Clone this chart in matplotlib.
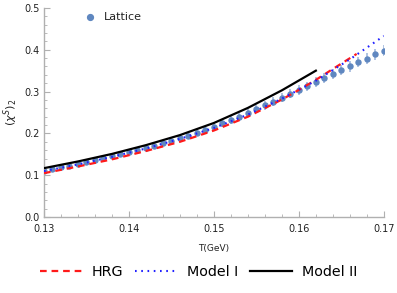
import numpy as np
import matplotlib
matplotlib.use('Agg')
import matplotlib.pyplot as plt
from matplotlib.ticker import MultipleLocator, FormatStrFormatter
from matplotlib.lines import Line2D

# model curves
t_hrg = [0.130, 0.134, 0.138, 0.142, 0.146, 0.150, 0.154, 0.158, 0.160, 0.162, 0.164, 0.1668]
hrg = [0.105, 0.121, 0.138, 0.158, 0.180, 0.207, 0.240, 0.281, 0.304, 0.328, 0.354, 0.390]

t_m1 = [0.130, 0.134, 0.138, 0.142, 0.146, 0.150, 0.154, 0.158, 0.162, 0.166, 0.168, 0.170]
model1 = [0.110, 0.126, 0.144, 0.164, 0.187, 0.213, 0.245, 0.283, 0.326, 0.377, 0.405, 0.433]

t_m2 = [0.130, 0.134, 0.138, 0.142, 0.146, 0.150, 0.154, 0.158, 0.162]
model2 = [0.117, 0.133, 0.151, 0.172, 0.196, 0.225, 0.261, 0.303, 0.350]

# lattice points
t_lat = [0.130, 0.131, 0.132, 0.133, 0.134, 0.135, 0.136, 0.137, 0.138, 0.139,
         0.140, 0.141, 0.142, 0.143, 0.144, 0.145, 0.146, 0.147, 0.148, 0.149,
         0.150, 0.151, 0.152, 0.153, 0.154, 0.155, 0.156, 0.157, 0.158, 0.159,
         0.160, 0.161, 0.162, 0.163, 0.164, 0.165, 0.166, 0.167, 0.168, 0.169, 0.170]
lattice = [0.111, 0.115, 0.119, 0.123, 0.127, 0.132, 0.136, 0.141, 0.145, 0.150,
           0.155, 0.160, 0.165, 0.171, 0.177, 0.183, 0.189, 0.195, 0.202, 0.209,
           0.216, 0.224, 0.232, 0.240, 0.249, 0.258, 0.267, 0.276, 0.285, 0.295,
           0.304, 0.313, 0.323, 0.332, 0.342, 0.351, 0.360, 0.370, 0.379, 0.389, 0.398]
lat_err = [0.006, 0.006, 0.006, 0.006, 0.006, 0.006, 0.007, 0.007, 0.007, 0.007,
           0.007, 0.007, 0.008, 0.008, 0.008, 0.008, 0.008, 0.008, 0.009, 0.009,
           0.009, 0.009, 0.009, 0.010, 0.010, 0.010, 0.010, 0.010, 0.011, 0.011,
           0.011, 0.011, 0.011, 0.012, 0.012, 0.012, 0.012, 0.012, 0.013, 0.013, 0.013]

fig = plt.figure(figsize=(3.97, 2.93), dpi=100)
ax = fig.add_axes([0.1108, 0.259, 0.856, 0.714])

ax.errorbar(t_lat, lattice, yerr=lat_err, fmt='o', ms=3.6, color='#5f87c0',
            ecolor='#a9bedf', elinewidth=1.3, capsize=0, zorder=2)
ax.plot(t_hrg, hrg, color='#ff1a1a', lw=1.6, ls=(0, (3, 2.2)), zorder=3)
ax.plot(t_m1, model1, color='#2020ff', lw=1.5, ls=(0, (0.8, 2.2)), zorder=4)
ax.plot(t_m2, model2, color='black', lw=1.6, zorder=5)

ax.set_xlim(0.13, 0.17)
ax.set_ylim(0.0, 0.5)
ax.xaxis.set_major_locator(MultipleLocator(0.01))
ax.xaxis.set_minor_locator(MultipleLocator(0.002))
ax.yaxis.set_major_locator(MultipleLocator(0.1))
ax.yaxis.set_minor_locator(MultipleLocator(0.02))
ax.xaxis.set_major_formatter(FormatStrFormatter('%.2f'))
ax.yaxis.set_major_formatter(FormatStrFormatter('%.1f'))

for s in ['top', 'right']:
    ax.spines[s].set_visible(False)
for s in ['left', 'bottom']:
    ax.spines[s].set_color('#b0b0b0')
    ax.spines[s].set_linewidth(1.0)
ax.tick_params(which='both', direction='in', color='#b0b0b0', labelsize=7,
               labelcolor='#222222')
ax.tick_params(axis='x', which='both', pad=5)
ax.tick_params(axis='y', which='both', pad=3)
ax.tick_params(which='major', length=4, width=0.8)
ax.tick_params(which='minor', length=2.5, width=0.6)

ax.set_xlabel('T(GeV)', fontsize=6.5, color='#222222', labelpad=7)
ax.set_ylabel(r'$(\chi^{S})_2$', fontsize=8, color='#222222', labelpad=3)

ax.plot([0.1354], [0.4785], 'o', ms=4.2, color='#5f87c0', clip_on=False)
ax.text(0.1371, 0.4785, 'Lattice', fontsize=8, va='center', color='#222222')

handles = [
    Line2D([], [], color='#ff1a1a', lw=1.6, ls=(0, (3, 2.2))),
    Line2D([], [], color='#2020ff', lw=1.5, ls=(0, (0.8, 2.2))),
    Line2D([], [], color='black', lw=1.6),
]
fig.legend(handles, ['HRG', 'Model I', 'Model II'], loc='center',
           bbox_to_anchor=(0.5, 0.072), ncol=3, frameon=False, fontsize=10.3,
           handlelength=2.9, handletextpad=0.7, columnspacing=0.85)

fig.savefig('out.png', dpi=100)
